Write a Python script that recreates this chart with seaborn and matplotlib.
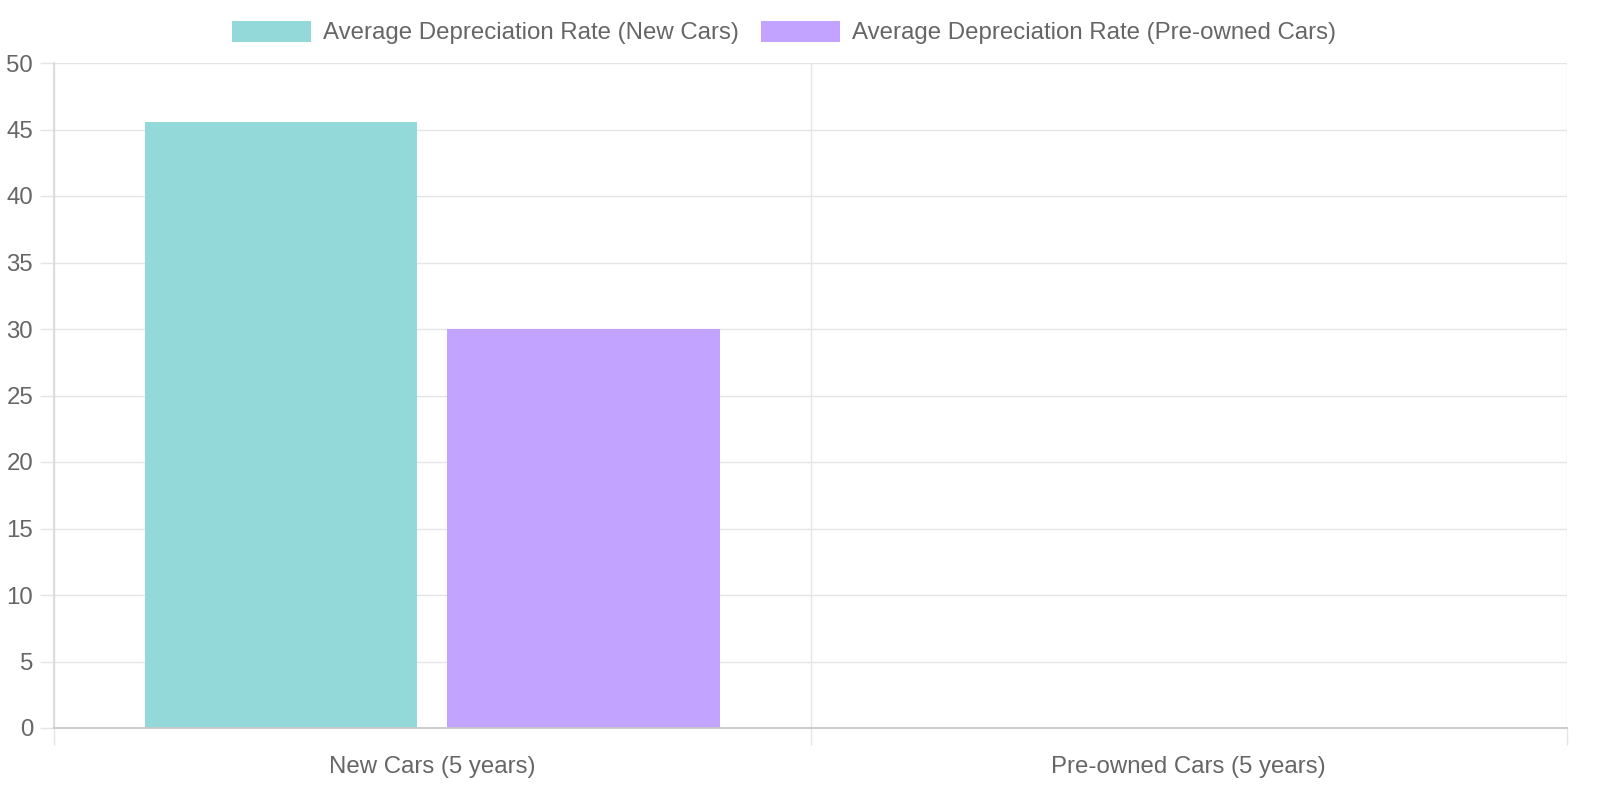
import numpy as np
import pandas as pd
import matplotlib
matplotlib.use("Agg")
import matplotlib.pyplot as plt
from matplotlib.patches import Patch
import seaborn as sns

# data
categories = ["New Cars (5 years)", "Pre-owned Cars (5 years)"]
series_names = ["Average Depreciation Rate (New Cars)",
                "Average Depreciation Rate (Pre-owned Cars)"]
new_cars_rate = [45.6, np.nan]
preowned_rate = [30.0, np.nan]
y_ticks = list(range(0, 55, 5))

colors = {series_names[0]: "#93d9d9", series_names[1]: "#c2a3ff"}
GRID = "#e5e5e5"
TEXT = "#666666"
FS = 17.3

df = pd.DataFrame({
    "category": categories * 2,
    "series": [series_names[0]] * 2 + [series_names[1]] * 2,
    "value": new_cars_rate + preowned_rate,
})

sns.set_theme(style="white")
plt.rcParams["font.family"] = ["Liberation Sans", "DejaVu Sans"]

fig = plt.figure(figsize=(16, 8), dpi=100)
ax = fig.add_axes([54 / 1600, 72 / 800, 1513 / 1600, 665 / 800])

sns.barplot(data=df, x="category", y="value", hue="series", order=categories,
            hue_order=series_names, palette=colors, saturation=1,
            width=0.8, gap=0.1, legend=False, ax=ax, linewidth=0)

ax.set_xlim(-0.5, 1.5)
ax.set_ylim(0, 50)
ax.set_yticks(y_ticks)
ax.set_xlabel("")
ax.set_ylabel("")
ax.set_axisbelow(True)

# horizontal grid + y ticks that look like gridline stubs
ax.yaxis.grid(True, color=GRID, linewidth=1)
ax.tick_params(axis="y", which="major", length=10, width=1, color=GRID,
               labelsize=FS, labelcolor=TEXT, pad=5, left=True)

# x: labels centred, gridlines/ticks at category boundaries
ax.set_xticks([-0.5, 0.5, 1.5], minor=True)
ax.xaxis.grid(True, which="minor", color=GRID, linewidth=1)
ax.xaxis.grid(False, which="major")
ax.tick_params(axis="x", which="major", length=0, labelsize=FS,
               labelcolor=TEXT, pad=20)
ax.tick_params(axis="x", which="minor", length=12, width=1, color=GRID,
               bottom=True)

for side in ["top", "right"]:
    ax.spines[side].set_visible(False)
ax.spines["left"].set_color("#d9d9d9")
ax.spines["bottom"].set_color("#c8c8c8")
ax.spines["bottom"].set_linewidth(1.3)

handles = [Patch(facecolor=colors[s], edgecolor="none", label=s) for s in series_names]
leg = fig.legend(handles=handles, loc="upper center", bbox_to_anchor=(0.49, 0.995),
                 ncol=2, frameon=False, fontsize=FS, handlelength=3.3,
                 handleheight=0.95, handletextpad=0.5, columnspacing=0.9,
                 borderaxespad=0.3)
for t in leg.get_texts():
    t.set_color(TEXT)

fig.savefig("out.png", dpi=100, facecolor="white")
